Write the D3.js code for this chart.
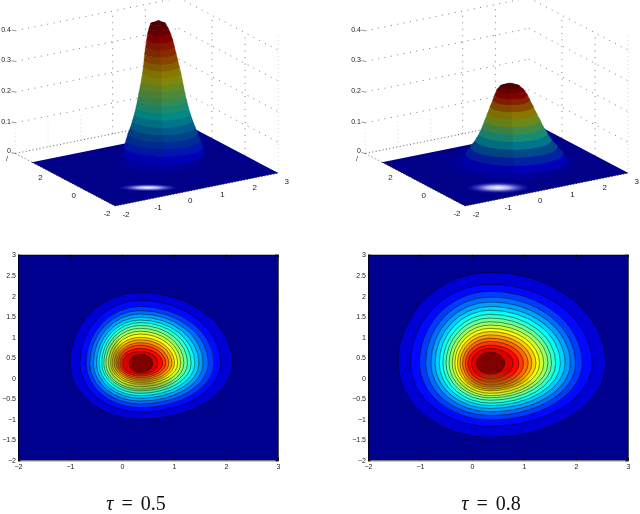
<!DOCTYPE html>
<html>
<head>
<meta charset="utf-8">
<script src="https://cdn.jsdelivr.net/npm/d3@7"></script>
<style>
  html, body { margin: 0; padding: 0; background: #fff; }
  svg { display: block; filter: blur(.3px); }
  text { font-family: "Liberation Sans", sans-serif; font-size: 7px; fill: #222; }
  .floorlabel { font-size: 8px; }
  .title { font-family: "Liberation Serif", serif; font-size: 20px; fill: #111; word-spacing: 3px; }
</style>
</head>
<body>
<svg id="chart" width="640" height="514"></svg>
<script>
// contour extents around the peak, outer level first
const left05 = [-1.0, -.81, -.69, -.62, -.55, -.49, -.44, -.39, -.35, -.31, -.26, -.22, -.19, -.15, -.11, -.08, -.04, .01, .14];
const right05 = [2.12, 1.90, 1.77, 1.66, 1.56, 1.48, 1.40, 1.33, 1.26, 1.19, 1.13, 1.07, 1.01, .96, .90, .84, .78, .69, .59];
const top05 = [2.08, 1.89, 1.74, 1.64, 1.56, 1.48, 1.41, 1.35, 1.28, 1.21, 1.14, 1.07, .99, .93, .86, .80, .72, .65, .58];
const bottom05 = [-1.0, -.83, -.72, -.63, -.56, -.49, -.43, -.37, -.31, -.27, -.21, -.15, -.11, -.07, -.03, .01, .05, .09, .13];

const left08 = [-1.42, -1.18, -1.01, -.89, -.79, -.71, -.63, -.56, -.5, -.44, -.38, -.33, -.28, -.23, -.18, -.13, -.08, -.01, .09];
const right08 = [2.57, 2.31, 2.12, 1.99, 1.89, 1.79, 1.70, 1.61, 1.53, 1.46, 1.38, 1.30, 1.23, 1.15, 1.08, .99, .90, .79, .63];
const top08 = [2.57, 2.28, 2.11, 1.97, 1.85, 1.74, 1.65, 1.55, 1.46, 1.37, 1.29, 1.21, 1.13, 1.05, .97, .89, .80, .72, .63];
const bottom08 = [-1.44, -1.17, -1.02, -.91, -.82, -.74, -.67, -.61, -.54, -.48, -.43, -.37, -.31, -.27, -.22, -.17, -.1, -.02, .09];

// surface outline: height, then left and right edge of the peak at that height
const surfZ05 = [.043, .065, .087, .109, .13, .152, .174, .196, .217, .239, .261, .283, .304, .326, .348, .37, .391, .413, .435, .451, .467, .476];
const surfL05 = [-1.74, -1.72, -1.66, -1.60, -1.52, -1.46, -1.40, -1.35, -1.31, -1.27, -1.23, -1.19, -1.16, -1.13, -1.11, -1.09, -1.06, -1.03, -1.0, -.96, -.91, -.70];
const surfR05 = [.72, .70, .62, .53, .45, .37, .30, .24, .19, .14, .10, .06, .02, -.03, -.08, -.13, -.18, -.23, -.30, -.37, -.45, -.64];

const surfZ08 = [.022, .043, .065, .087, .109, .13, .152, .174, .196, .217, .234, .25, .263, .272];
const surfL08 = [-2.10, -1.98, -1.83, -1.68, -1.56, -1.47, -1.39, -1.31, -1.23, -1.15, -1.09, -1.03, -.93, -.70];
const surfR08 = [1.13, 1.01, .83, .65, .52, .40, .30, .19, .09, -.01, -.09, -.19, -.32, -.55];

const panelTaus = ["0.5", "0.8"];
const peakX = [.35, .35];
const peakY = [.36, .36];

const contourXTicks = [-2, -1, 0, 1, 2, 3];
const contourYTicks = [-2, -1.5, -1, -.5, 0, .5, 1, 1.5, 2, 2.5, 3];
const boxXTicks = [-2, -1, 0, 1, 2, 3];
const boxYTicks = [-2, 0, 2, 4];
const boxZTicks = [.1, .2, .3, .4];
const xTickLabels = [-2, -1, 0, 1, 2, 3];
const yTickLabels = [-2, 0, 2];

const svg = d3.select("#chart");
const defs = svg.append("defs");

const jet = d3.scaleLinear()
  .domain([0, .11, .36, .61, .86, 1])
  .range(["#00008f", "#0000ff", "#00ffff", "#ffff00", "#ff0000", "#800000"])
  .interpolate(d3.interpolateRgb);

const shade = d3.scaleLinear().domain([0, .2, 1]).range([1, .55, .52]);

function dim(c, k) {
  const r = d3.rgb(c);
  return d3.rgb(r.r * k, r.g * k, r.b * k).formatRgb();
}

const glow = defs.append("radialGradient").attr("id", "glow");
glow.append("stop").attr("offset", "0%").attr("stop-color", "#fff").attr("stop-opacity", 1);
glow.append("stop").attr("offset", "35%").attr("stop-color", "#c8c8ff").attr("stop-opacity", .85);
glow.append("stop").attr("offset", "100%").attr("stop-color", "#0000c0").attr("stop-opacity", 0);

const smear = defs.append("radialGradient").attr("id", "smear");
smear.append("stop").attr("offset", "0%").attr("stop-color", "#7a6a10").attr("stop-opacity", .7);
smear.append("stop").attr("offset", "100%").attr("stop-color", "#7a6a10").attr("stop-opacity", 0);

const halo = defs.append("radialGradient").attr("id", "halo");
halo.append("stop").attr("offset", "0%").attr("stop-color", "#0000b0").attr("stop-opacity", .9);
halo.append("stop").attr("offset", "70%").attr("stop-color", "#0000a0").attr("stop-opacity", .6);
halo.append("stop").attr("offset", "100%").attr("stop-color", "#000088").attr("stop-opacity", 0);

const soft = defs.append("filter").attr("id", "soft");
soft.append("feGaussianBlur").attr("stdDeviation", .6);

// the 3d box is a linear projection, one scale per screen direction
const xToX = d3.scaleLinear().domain([-2, 3]).range([0, 163.3]);
const xToY = d3.scaleLinear().domain([-2, 3]).range([0, -33]);
const yToX = d3.scaleLinear().domain([-2, 3]).range([0, -83]);
const yToY = d3.scaleLinear().domain([-2, 3]).range([0, -43.8]);
const zToY = d3.scaleLinear().domain([0, .4]).range([0, -122.7]);

function project(x, y, z) {
  return [115 + xToX(x) + yToX(y), 206 + xToY(x) + yToY(y) + zToY(z)];
}

const line = d3.line();

function drawSurface(g, zs, ls, rs, i) {
  const zMax = d3.max(zs);
  const axisX = .64, axisY = .5;

  // back walls
  const wallLines = [];
  boxZTicks.forEach(z => {
    wallLines.push([project(-2, 4, z), project(3, 4, z)]);
    wallLines.push([project(3, 4, z), project(3, -2, z)]);
  });
  boxXTicks.slice(3, 5).forEach(x => wallLines.push([project(x - .02, 4, 0), project(x - .02, 4, .4)]));
  boxYTicks.slice(1, 3).forEach(y => wallLines.push([project(3, y, 0), project(3, y, .4)]));
  const walls = g.append("g");
  walls.selectAll("path").data(wallLines).join("path")
    .attr("d", line).attr("fill", "none")
    .attr("stroke", "#222").attr("stroke-width", .9)
    .attr("stroke-dasharray", "1 5.5").attr("opacity", .65);

  // faint lower verticals
  const faint = boxXTicks.slice(0, 3).map(x => [project(x, 4, 0), project(x, 4, .08)])
    .concat([[project(3, -2, 0), project(3, -2, .45)], [project(3, 4, 0), project(3, 4, .1)]]);
  walls.append("g").selectAll("path").data(faint).join("path")
    .attr("d", line).attr("fill", "none").attr("stroke", "#999").attr("stroke-width", .6)
    .attr("stroke-dasharray", "1 3").attr("opacity", .6);

  // floor rulings at the back
  const floorLines = [[project(-2, 4, 0), project(3, 4, 0)], [project(-2, 4, 0), project(-2, 3, 0)], [project(3, 4, 0), project(3, 3, 0)]];
  walls.append("g").selectAll("path").data(floorLines).join("path")
    .attr("d", line).attr("fill", "none").attr("stroke", "#333").attr("stroke-width", .8)
    .attr("stroke-dasharray", "1 2.5");

  // floor
  const floor = [project(-2, -2, 0), project(3, -2, 0), project(3, 3, 0), project(-2, 3, 0)];
  g.append("path").attr("d", line(floor) + "Z").attr("fill", "#000088");

  const ax = project(axisX, axisY, 0);
  g.append("ellipse").attr("cx", ax[0]).attr("cy", ax[1] - 4)
    .attr("rx", i ? 78 : 52).attr("ry", i ? 22 : 14).attr("fill", "url(#halo)");

  // bright streak on the floor
  const c = project(-.5, -1.04, 0);
  g.append("ellipse").attr("cx", c[0]).attr("cy", c[1])
    .attr("rx", i ? 34 : 32).attr("ry", i ? 6 : 4)
    .attr("fill", "url(#glow)");

  // front edges
  g.append("path")
    .attr("d", line([project(-2, 3, 0), project(-2, -2, 0), project(3, -2, 0)]))
    .attr("fill", "none").attr("stroke", "#222").attr("stroke-width", .9).attr("stroke-dasharray", "1.5 1.5");

  // peak as bands between neighbouring slices, lowest first
  const h = d3.scaleLinear().domain([-2, 3]).range([115, 278.3]);
  const slices = zs.map((z, k) => {
    const xl = h(ls[k]), xr = h(rs[k]);
    const rx = (xr - xl) / 2;
    return { z, xl, xr, xm: (xl + xr) / 2, rx, ry: Math.max(rx * .25, .6), cy: project(axisX, axisY, z)[1] };
  });
  const sg = g.append("g").attr("filter", "url(#soft)");

  function half(a, b, side) {
    // side -1 is the left half of the band, +1 the right one
    const ax0 = side < 0 ? a.xl : a.xr, bx0 = side < 0 ? b.xl : b.xr;
    const s1 = side < 0 ? 0 : 1, s2 = side < 0 ? 1 : 0;
    return `M${ax0},${a.cy}A${a.rx},${a.ry} 0 0 ${s1} ${a.xm},${a.cy + a.ry}` +
      `L${b.xm},${b.cy + b.ry}A${b.rx},${b.ry} 0 0 ${s2} ${bx0},${b.cy}Z`;
  }

  slices.forEach((a, k) => {
    const t = a.z / zMax;
    const col = dim(jet(t), shade(t));
    if (k === 0) {
      sg.append("ellipse").attr("cx", a.xm).attr("cy", a.cy).attr("rx", a.rx).attr("ry", a.ry).attr("fill", col);
    }
    const b = slices[k + 1];
    if (!b) return;
    sg.append("path").attr("d", half(a, b, -1)).attr("fill", dim(col, .93)).attr("stroke", dim(col, .93)).attr("stroke-width", .4);
    sg.append("path").attr("d", half(a, b, 1)).attr("fill", col).attr("stroke", col).attr("stroke-width", .4);
    // cover the inside with the next slice top
    const tb = b.z / zMax;
    sg.append("ellipse").attr("cx", b.xm).attr("cy", b.cy).attr("rx", b.rx).attr("ry", b.ry).attr("fill", dim(jet(tb), shade(tb)));
  });

  // z labels
  const zAxisX = project(-2, 4, 0)[0];
  boxZTicks.concat([0]).forEach(z => {
    const p = project(-2, 4, z);
    g.append("path").attr("d", line([[p[0] - 4, p[1] - .8], p])).attr("stroke", "#555").attr("stroke-width", .6);
    g.append("text").attr("x", p[0] - 4.5).attr("y", p[1] + 2.4 - (z ? 1.6 : 3)).attr("text-anchor", "end")
      .text(z === 0 ? "0" : z);
  });
  g.append("text").attr("x", zAxisX - 8.5).attr("y", 161).attr("text-anchor", "middle").text("/");

  // y and x tick labels
  yTickLabels.forEach(y => {
    const p = project(-2, y, 0);
    g.append("text").attr("class", "floorlabel").attr("x", p[0] - 8).attr("y", p[1] + 9.5).attr("text-anchor", "middle").text(String(y));
  });
  xTickLabels.forEach(x => {
    const p = project(x, -2, 0);
    g.append("text").attr("class", "floorlabel").attr("x", p[0] + 11 - (x + 2) * .5).attr("y", p[1] + 10.5).attr("text-anchor", "middle").text(String(x));
  });
}

function drawContour(g, ls, rs, ts, bs, tau, i) {
  const x = d3.scaleLinear().domain([-2, 3]).range([18, 278]);
  const y = d3.scaleLinear().domain([-2, 3]).range([460.3, 254.7]);
  const clipId = "plot" + i;
  defs.append("clipPath").attr("id", clipId).append("rect")
    .attr("x", 18).attr("y", 254.7).attr("width", 260).attr("height", 205.6);

  const plot = g.append("g").attr("clip-path", `url(#${clipId})`);
  plot.append("rect").attr("x", 18).attr("y", 254.7).attr("width", 260).attr("height", 205.6).attr("fill", jet(0));

  const cx = peakX[i], cy = peakY[i];
  const levels = ls.map((l, k) => ({ l, r: rs[k], t: ts[k], b: bs[k], k }));
  const n = levels.length;
  plot.selectAll("path.level").data(levels).join("path")
    .attr("class", "level")
    // innermost level is the dark red cap, the rest run up to plain red
    .attr("fill", d => d.k === n - 1 ? jet(1) : jet((d.k + 1.4) / (n + 1.4)))
    .attr("stroke", "#000").attr("stroke-width", .55).attr("stroke-opacity", .85)
    .attr("d", d => {
      const X = x(cx), Y = y(cy);
      const rl = X - x(d.l), rr = x(d.r) - X, rt = Y - y(d.t), rb = y(d.b) - Y;
      return `M${X - rl},${Y}A${rl},${rt} 0 0 1 ${X},${Y - rt}A${rr},${rt} 0 0 1 ${X + rr},${Y}` +
        `A${rr},${rb} 0 0 1 ${X},${Y + rb}A${rl},${rb} 0 0 1 ${X - rl},${Y}Z`;
    });

  // muddy colours just under the peak
  plot.append("ellipse").attr("cx", x(cx + .1)).attr("cy", y(-.12))
    .attr("rx", i ? 42 : 32).attr("ry", 12).attr("fill", "url(#smear)");
  if (!i) {
    plot.append("ellipse").attr("cx", x(-.12)).attr("cy", y(.45))
      .attr("rx", 10).attr("ry", 26).attr("fill", "url(#smear)");
  }

  const fmt = d => String(d).replace("-", "\u2212");
  const gx = g.append("g").attr("transform", "translate(0,460.3)")
    .call(d3.axisBottom(x).tickValues(contourXTicks).tickFormat(fmt).tickSize(-2.5).tickPadding(4));
  const gy = g.append("g").attr("transform", "translate(18,0)")
    .call(d3.axisLeft(y).tickValues(contourYTicks).tickFormat(fmt).tickSize(-2.5).tickPadding(2));
  const gx2 = g.append("g").attr("transform", "translate(0,254.7)")
    .call(d3.axisTop(x).tickValues(contourXTicks).tickFormat("").tickSize(-2.5));
  const gy2 = g.append("g").attr("transform", "translate(278,0)")
    .call(d3.axisRight(y).tickValues(contourYTicks).tickFormat("").tickSize(-2.5));
  [gx, gy, gx2, gy2].forEach(a => {
    a.attr("font-size", null).attr("font-family", null);
    a.selectAll("path,line").attr("stroke", "#000").attr("stroke-width", .7);
  });

  const title = g.append("text").attr("class", "title").attr("x", i ? 141 : 136).attr("y", 510).attr("text-anchor", "middle");
  title.append("tspan").attr("font-style", "italic").text("\u03c4");
  title.append("tspan").text(" = " + tau);
}

const surfaces = [[surfZ05, surfL05, surfR05], [surfZ08, surfL08, surfR08]];
const contours = [[left05, right05, top05, bottom05], [left08, right08, top08, bottom08]];

panelTaus.forEach((tau, i) => {
  const g = svg.append("g").attr("transform", `translate(${i * 350},0)`);
  drawSurface(g, surfaces[i][0], surfaces[i][1], surfaces[i][2], i);
  drawContour(g, contours[i][0], contours[i][1], contours[i][2], contours[i][3], tau, i);
});
</script>
</body>
</html>
